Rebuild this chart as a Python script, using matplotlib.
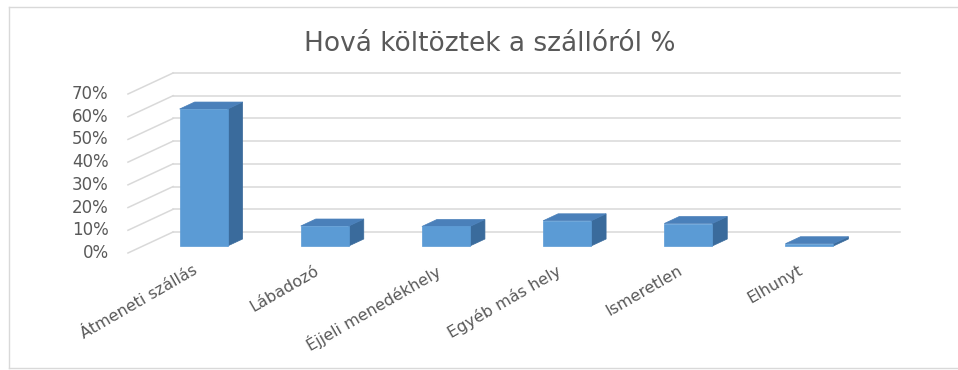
import matplotlib
matplotlib.use("Agg")
import matplotlib.pyplot as plt
from matplotlib.patches import Polygon
from matplotlib.lines import Line2D

categories = ["Átmeneti szállás", "Lábadozó", "Éjjeli menedékhely",
              "Egyéb más hely", "Ismeretlen", "Elhunyt"]
values = [60.3, 8.8, 8.6, 11.1, 9.9, 1.0]
ticks = [0, 10, 20, 30, 40, 50, 60, 70]
title = "Hová költöztek a szállóról %"

W, H = 958, 370
fig = plt.figure(figsize=(W / 100, H / 100), dpi=100)
plt.rcParams['font.family'] = ['DejaVu Sans']

# chart frame: left, top and bottom edges (right edge runs off the canvas)
fx0, fy0, fy1 = 8.5 / W, 1 - 367.5 / H, 1 - 6.5 / H
for xs, ys in (([fx0, fx0], [fy0, fy1]), ([fx0, 1.05], [fy1, fy1]),
               ([fx0, 1.05], [fy0, fy0])):
    fig.add_artist(Line2D(xs, ys, transform=fig.transFigure,
                          color="#d9d9d9", lw=1))

ax = fig.add_axes([143 / W, 124 / H, 727 / W, 159 / H])
ax.set_xlim(-0.5, len(categories) - 0.5)
ax.set_ylim(0, 70)
ax.axis("off")

# oblique depth step (category units, percent units)
DX, DY = 0.124, 3.08
BW = 0.396
grid_c = "#d9d9d9"
text_c = "#595959"

x_left, x_right = -0.5, len(categories) - 0.5
for t in ticks:
    ax.plot([x_left + 2 * DX, x_right + 2 * DX], [t + 2 * DY] * 2,
            color=grid_c, lw=1.1, zorder=1, clip_on=False)
    ax.plot([x_left - DX, x_left + 2 * DX], [t - DY, t + 2 * DY],
            color=grid_c, lw=1.1, zorder=1, clip_on=False)
    ax.annotate(f"{t}%", xy=(x_left - DX, t - DY), xytext=(-14, 0),
                textcoords="offset points", ha="right", va="center",
                fontsize=12, color=text_c, annotation_clip=False)

front_c, side_c, top_c = "#5b9bd5", "#3a6b9c", "#4a80ba"
for i, v in enumerate(values):
    x0, x1 = i - BW / 2, i + BW / 2
    front = [(x0, 0), (x1, 0), (x1, v), (x0, v)]
    side = [(x1, 0), (x1 + DX, DY), (x1 + DX, v + DY), (x1, v)]
    top = [(x0, v), (x1, v), (x1 + DX, v + DY), (x0 + DX, v + DY)]
    for pts, c in ((side, side_c), (top, top_c), (front, front_c)):
        ax.add_patch(Polygon(pts, closed=True, facecolor=c, edgecolor=c,
                             lw=0.5, zorder=3, clip_on=False))

for i, lab in enumerate(categories):
    ax.annotate(lab, xy=(i, 0), xytext=(-8, -12),
                textcoords="offset points", ha="right", va="top",
                rotation=30, rotation_mode="anchor",
                fontsize=11.5, color=text_c, annotation_clip=False)

fig.text(490 / W, 1 - 44 / H, title, ha="center", va="center",
         fontsize=19, color=text_c)

fig.savefig("out.png", dpi=100)
